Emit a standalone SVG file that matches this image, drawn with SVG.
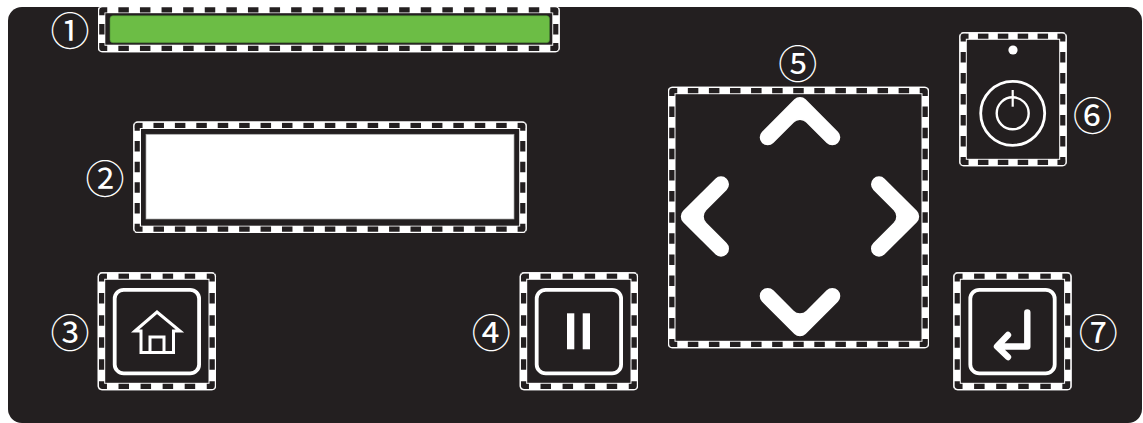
<svg xmlns="http://www.w3.org/2000/svg" width="1143" height="423" viewBox="0 0 1143 423">
<style>
.n{fill:#fff;font-family:'Noto Sans CJK SC','Noto Sans CJK JP',sans-serif;font-size:39px;text-anchor:middle}
.band{fill:#fff}
.dash{fill:none;stroke:#231f20;stroke-width:5.5;stroke-dashoffset:2.25}
.in{fill:#231f20}
.line{fill:none;stroke:#fff;stroke-width:1.2}
.btn{fill:none;stroke:#fff;stroke-width:3.8}
.a{fill:none;stroke:#fff;stroke-width:16;stroke-linecap:round;stroke-linejoin:round}
.a2{fill:#fff}
.ic{fill:none;stroke:#fff;stroke-width:3;stroke-linejoin:miter}
</style>
<defs>
<g id="sq">
<rect class="band" width="118.3" height="118" rx="4"/>
<path class="dash" stroke-dasharray="10.5 11.56" d="M1 3.75H117.3M1 114.25H117.3M3.75 1V117M114.55 1V117"/>
<rect class="in" x="7.5" y="7.5" width="103.3" height="103"/>
<rect class="line" x=".6" y=".6" width="117.1" height="116.8" rx="4"/>
<rect class="btn" x="17" y="17.5" width="84.4" height="83.6" rx="9"/>
</g>
</defs>
<rect width="1143" height="423" fill="#fff"/>
<rect x="8" y="7" width="1134" height="416" rx="14" fill="#231f20"/>
<g id="led">
<rect class="band" x="98" y="6" width="461.7" height="46.3" rx="4"/>
<path class="dash" stroke-dasharray="10.5 11.1" d="M99 9.75H558.7M99 48.55H558.7"/>
<path class="dash" stroke-dasharray="10.5 8.65" d="M101.75 7V51.3M555.95 7V51.3"/>
<rect class="in" x="105.3" y="13.2" width="447" height="31.5"/>
<rect class="line" x="98.6" y="6.6" width="460.5" height="45.1" rx="4"/>
<rect x="110" y="15.7" width="439.5" height="27" rx="3" fill="#6cbd45" stroke="#4a8a33" stroke-width=".6"/>
<text class="n" x="70" y="44.5">①</text>
</g>
<g id="display">
<rect class="band" x="133.3" y="121.5" width="393.4" height="111.5" rx="4"/>
<path class="dash" stroke-dasharray="10.5 10.92" d="M134.3 125.25H525.7M134.3 229.25H525.7"/>
<path class="dash" stroke-dasharray="10.5 10.2" d="M137.05 122.5V232M522.95 122.5V232"/>
<rect class="in" x="141" y="129" width="378.2" height="96.7"/>
<rect class="line" x="133.9" y="122.1" width="392.2" height="110.3" rx="4"/>
<rect x="146" y="134.3" width="368" height="84.7" fill="#fff" stroke="#aaa" stroke-width=".7"/>
<text class="n" x="105" y="192.5">②</text>
</g>
<g id="home">
<use href="#sq" transform="translate(97.7 272.3)"/>
<path class="ic" d="M135 331L157 312L180 331H173.5V352.5H141V331Z"/>
<path class="ic" d="M150 352.5V337H164V352.5"/>
<text class="n" x="70" y="347">③</text>
</g>
<g id="pause">
<use href="#sq" transform="translate(519.7 272.3)"/>
<rect x="567" y="313.3" width="7.3" height="36" fill="#fff"/>
<rect x="582.7" y="313.3" width="7.3" height="36" fill="#fff"/>
<text class="n" x="491.3" y="347">④</text>
</g>
<g id="dpad">
<rect class="band" x="668" y="86.7" width="261" height="261.6" rx="4"/>
<path class="dash" stroke-dasharray="10.5 10.58" d="M669 90.45H928M669 344.55H928"/>
<path class="dash" stroke-dasharray="10.5 10.63" d="M671.75 87.7V347.3M925.25 87.7V347.3"/>
<rect class="in" x="675.5" y="94.2" width="246" height="246.6"/>
<rect class="line" x="668.6" y="87.3" width="259.8" height="260.4" rx="4"/>
<path class="a" d="M767.7 137.3L800 105L832.3 137.3"/>
<path class="a2" d="M793.7 122.6A8.9 8.9 0 0 1 806.3 122.6L800 114Z"/>
<path class="a" d="M767.7 296L800 328.3L832.3 296"/>
<path class="a2" d="M793.7 310.7A8.9 8.9 0 0 0 806.3 310.7L800 319Z"/>
<path class="a" d="M721 184.3L688.8 216.5L721 248.7"/>
<path class="a2" d="M706.4 210.2A8.9 8.9 0 0 0 706.4 222.8L698 216.5Z"/>
<path class="a" d="M879 184.3L911.2 216.5L879 248.7"/>
<path class="a2" d="M893.6 210.2A8.9 8.9 0 0 1 893.6 222.8L902 216.5Z"/>
<text class="n" x="797.7" y="77.8">⑤</text>
</g>
<g id="power">
<rect class="band" x="959.3" y="32.3" width="107.4" height="134" rx="4"/>
<path class="dash" stroke-dasharray="10.5 9.38" d="M960.3 36.05H1065.7M960.3 162.55H1065.7"/>
<path class="dash" stroke-dasharray="10.5 10.5" d="M963.05 33.3V165.3M1062.95 33.3V165.3"/>
<rect class="in" x="966.8" y="39.8" width="92.4" height="119"/>
<rect class="line" x="959.9" y="32.9" width="106.2" height="132.8" rx="4"/>
<circle cx="1013" cy="50" r="4.6" fill="#fff"/>
<circle cx="1012.7" cy="113.3" r="32" fill="none" stroke="#fff" stroke-width="2.8"/>
<circle cx="1012.7" cy="113.3" r="16" fill="none" stroke="#fff" stroke-width="2.4"/>
<path d="M1012.7 90V106.7" fill="none" stroke="#fff" stroke-width="2.2"/>
<text class="n" x="1092.5" y="129.5">⑥</text>
</g>
<g id="enter">
<use href="#sq" transform="translate(953.3 272.3)"/>
<path d="M1027.3 312.5V346.5H998M1008 335L997 346.5L1008 357" fill="none" stroke="#fff" stroke-width="6.4" stroke-linecap="round" stroke-linejoin="round"/>
<text class="n" x="1098.3" y="347">⑦</text>
</g>
</svg>
